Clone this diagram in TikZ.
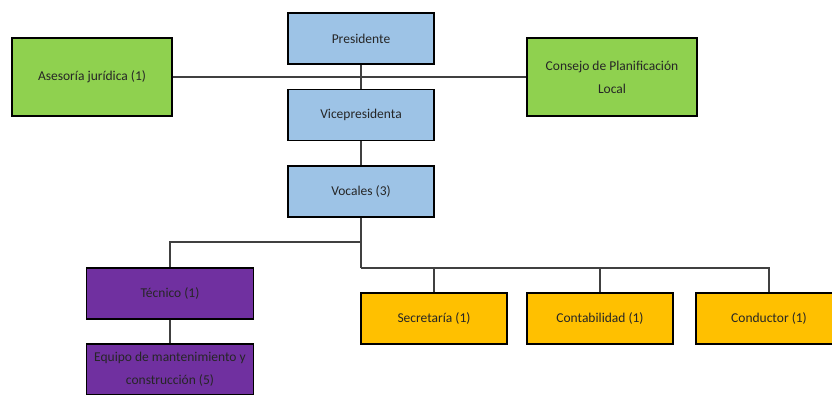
\documentclass[tikz,border=0pt]{standalone}
\usepackage{fontspec}
\setmainfont{Carlito}
\usepackage{xcolor}
\usetikzlibrary{positioning}

\definecolor{boxblue}{HTML}{9DC3E6}
\definecolor{boxgreen}{HTML}{8FD14F}
\definecolor{boxpurple}{HTML}{7030A0}
\definecolor{boxyellow}{HTML}{FFC000}

\begin{document}
\begin{tikzpicture}[x=1pt,y=-1pt,
    box/.style={draw=black,line width=1.2pt,align=center,inner sep=2pt,
        font=\fontsize{13.5}{23}\selectfont,text=black!85},
    small/.style={box,minimum width=146pt,minimum height=51pt},
    wide/.style={box,minimum width=167pt,minimum height=51pt},
    big/.style={box,minimum width=165pt,minimum height=78pt},
    link/.style={draw=black!75,line width=1.3pt}]

\def\frame{(0,0) rectangle (832,394)}

\useasboundingbox \frame;
\clip \frame;

% top of the chart
\node[small,fill=boxblue] (pres) at (361,38.5) {Presidente};
\node[small,fill=boxblue] (vice) at (361,115) {Vicepresidenta};
\node[small,fill=boxblue] (voc) at (361,191.5) {Vocales (3)};
\node[big,fill=boxgreen,minimum width=160pt] (ases) at (92,77) {Asesoría jurídica (1)};
\node[big,fill=boxgreen,minimum width=170pt] (cons) at (612,77) {Consejo de Planificación\\Local};

% lower boxes
\node[wide,fill=boxpurple] (tec) at (170,293.5) {Técnico (1)};
\node[wide,fill=boxpurple] (equipo) at (170,369.5) {Equipo de mantenimiento y\\construcción (5)};
\node[small,fill=boxyellow] (secr) at (434,318.5) {Secretaría (1)};
\node[small,fill=boxyellow] (cont) at (600,318.5) {Contabilidad (1)};
\node[small,fill=boxyellow] (cond) at (769,318.5) {Conductor (1)};

% branch points
\coordinate (left) at (361,242);
\coordinate (right) at (361,268);

% lines
\path[link] (ases.east) -- (cons.west);
\path[link] (pres) -- (vice);
\path[link] (vice) -- (voc);
\path[link] (voc) -- (right);
\path[link] (left) -| (tec.north);
\path[link] (tec) -- (equipo);
\path[link] (right) -| (secr.north);
\path[link] (right) -| (cont.north);
\path[link] (right) -| (cond.north);

\end{tikzpicture}
\end{document}
